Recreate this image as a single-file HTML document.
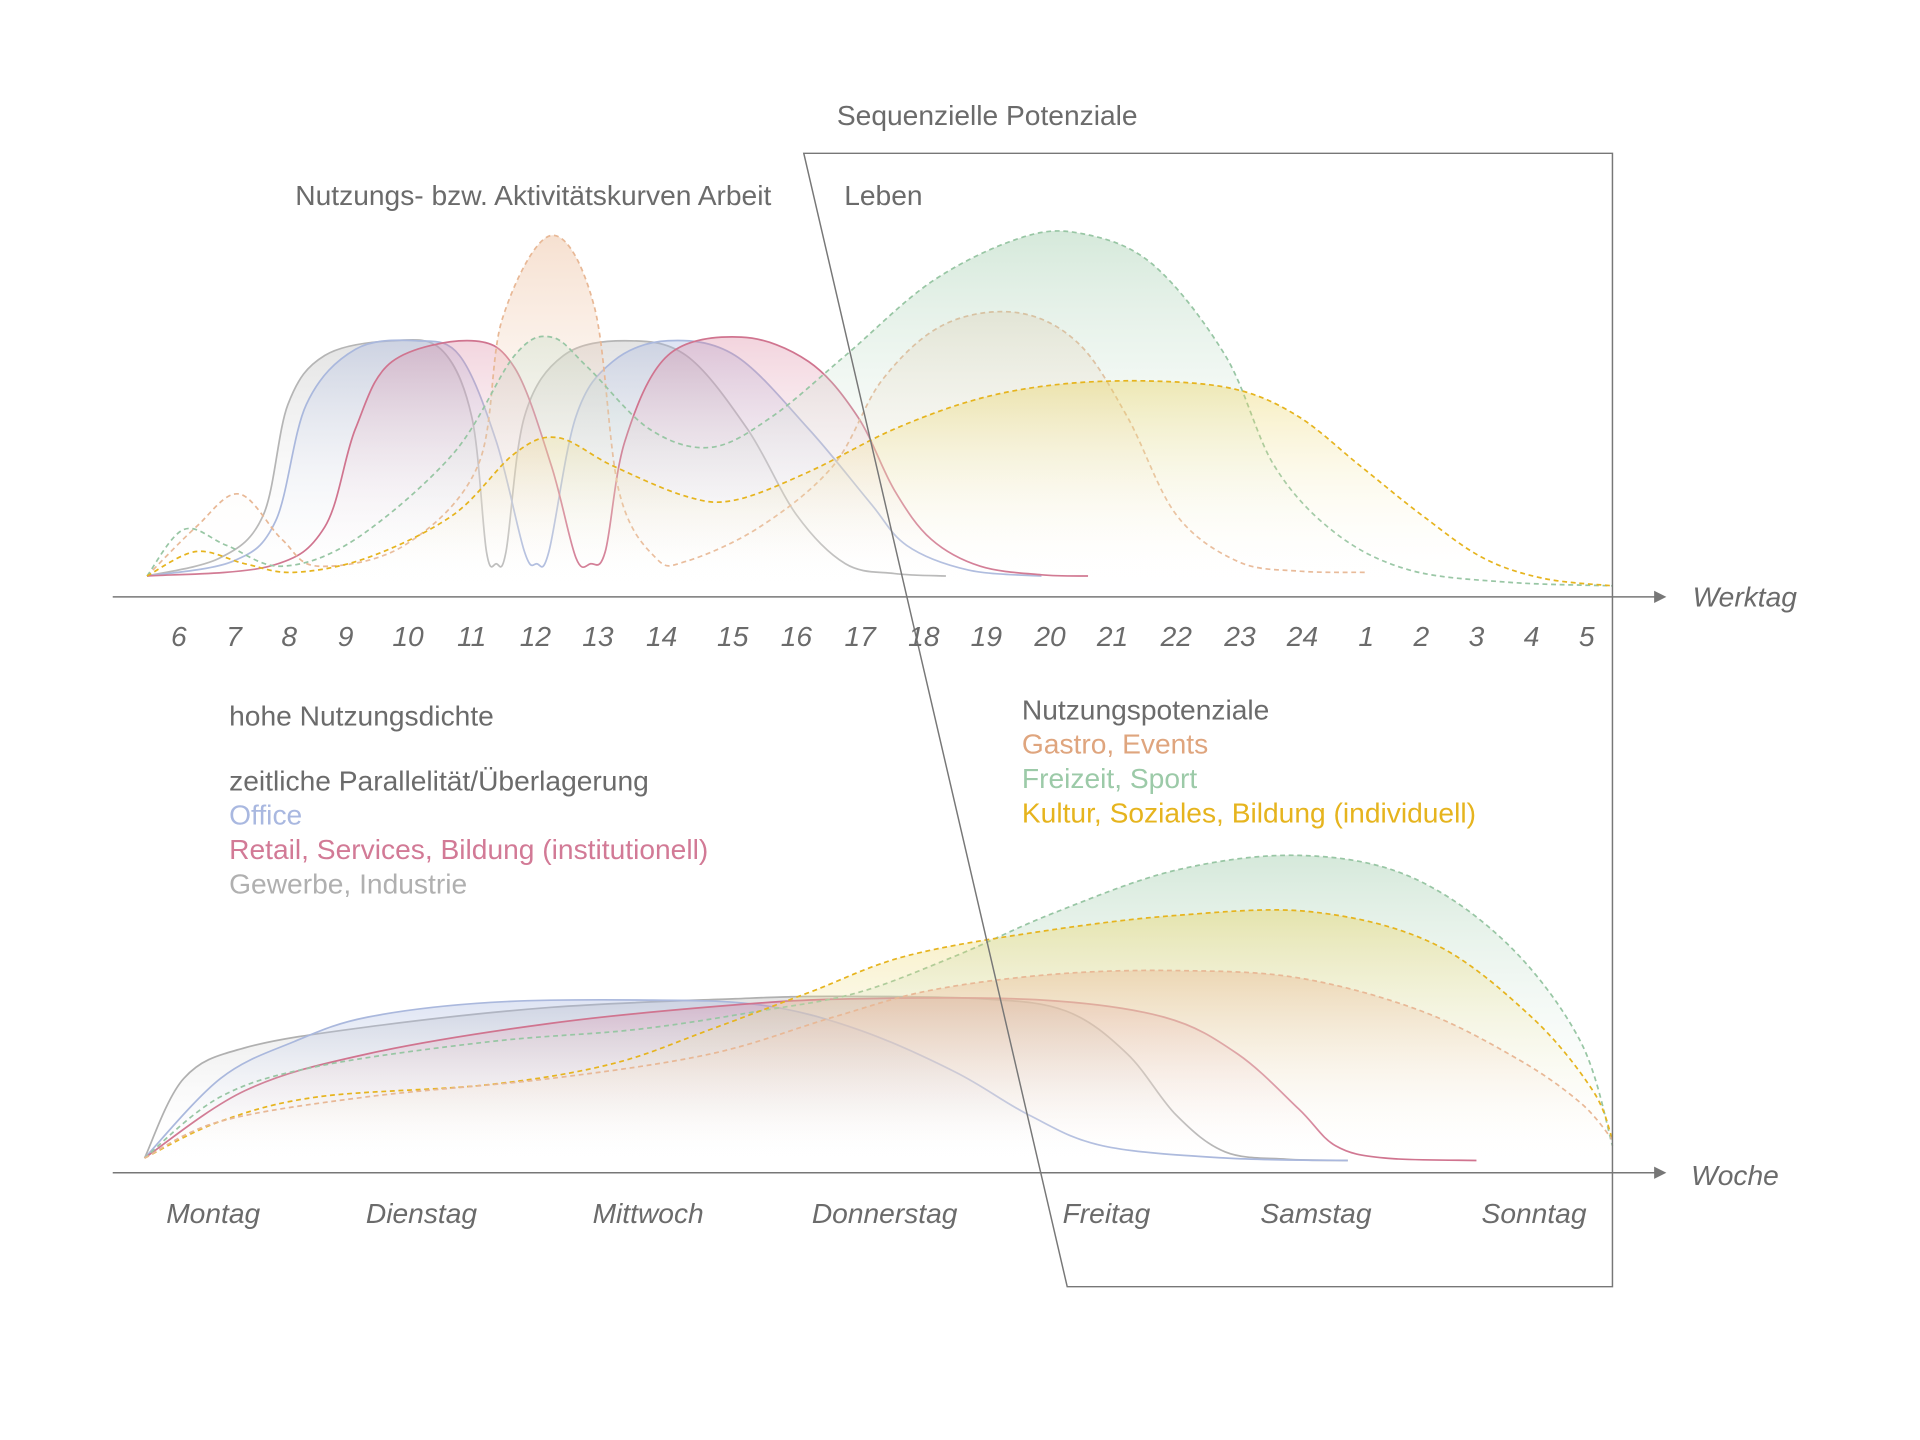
<!DOCTYPE html>
<html><head><meta charset="utf-8"><style>
html,body{margin:0;padding:0;background:#fff}
svg{display:block}
text{font-family:"Liberation Sans",sans-serif;}
</style></head><body>
<svg id="s" width="1920" height="1440" viewBox="0 0 1567 1175" xmlns="http://www.w3.org/2000/svg">
<defs>
<linearGradient id="gG" x1="0" y1="0" x2="0" y2="1"><stop offset="0" stop-color="#9a9a9a" stop-opacity="0.28"/><stop offset="1" stop-color="#fff" stop-opacity="0"/></linearGradient>
<linearGradient id="gB" x1="0" y1="0" x2="0" y2="1"><stop offset="0" stop-color="#a9b8e0" stop-opacity="0.38"/><stop offset="1" stop-color="#fff" stop-opacity="0"/></linearGradient>
<linearGradient id="gR" x1="0" y1="0" x2="0" y2="1"><stop offset="0" stop-color="#d87896" stop-opacity="0.32"/><stop offset="1" stop-color="#fff" stop-opacity="0"/></linearGradient>
<linearGradient id="gO" x1="0" y1="0" x2="0" y2="1"><stop offset="0" stop-color="#eab690" stop-opacity="0.42"/><stop offset="1" stop-color="#fff" stop-opacity="0"/></linearGradient>
<linearGradient id="gF" x1="0" y1="0" x2="0" y2="1"><stop offset="0" stop-color="#9ccaa8" stop-opacity="0.42"/><stop offset="1" stop-color="#fff" stop-opacity="0"/></linearGradient>
<linearGradient id="gY" x1="0" y1="0" x2="0" y2="1"><stop offset="0" stop-color="#e8cf50" stop-opacity="0.38"/><stop offset="1" stop-color="#fff" stop-opacity="0"/></linearGradient>
</defs>
<g id="curves"></g>
<g fill="none" stroke="#777" stroke-width="1.2">
<path d="M656 125 H1316 V1050 H871 Z"/>
<line x1="92" y1="487" x2="1352" y2="487"/>
<line x1="92" y1="957" x2="1352" y2="957"/>
</g>
<polygon points="1350,482 1360,487 1350,492" fill="#777"/>
<polygon points="1350,952 1360,957 1350,962" fill="#777"/>
<g fill="#6b6b6b" font-size="23">
<text x="683" y="102">Sequenzielle Potenziale</text>
<text x="241" y="167">Nutzungs- bzw. Aktivitätskurven Arbeit</text>
<text x="689" y="167">Leben</text>
<text x="187" y="592">hohe Nutzungsdichte</text>
<text x="187" y="645">zeitliche Parallelität/Überlagerung</text>
<text x="187" y="673" fill="#a9b8e0">Office</text>
<text x="187" y="701" fill="#d27a96">Retail, Services, Bildung (institutionell)</text>
<text x="187" y="729" fill="#b0b0b0">Gewerbe, Industrie</text>
<text x="834" y="587">Nutzungspotenziale</text>
<text x="834" y="615" fill="#dfa57e">Gastro, Events</text>
<text x="834" y="643" fill="#9ccaa8">Freizeit, Sport</text>
<text x="834" y="671" fill="#e6b41e">Kultur, Soziales, Bildung (individuell)</text>
</g>
<g fill="#6b6b6b" font-size="23" font-style="italic" text-anchor="middle">
<text x="1424" y="495">Werktag</text>
<text x="1416" y="967">Woche</text>
<g id="hrs"></g>
<text x="174" y="998">Montag</text><text x="344" y="998">Dienstag</text><text x="529" y="998">Mittwoch</text>
<text x="722" y="998">Donnerstag</text><text x="903" y="998">Freitag</text><text x="1074" y="998">Samstag</text><text x="1252" y="998">Sonntag</text>
</g>
</svg>
<script>
var NS="http://www.w3.org/2000/svg";
var hx=[146,191,236,282,333,385,437,488,540,598,650,702,754,805,857,908,960,1012,1063,1115,1160,1205,1250,1295];
var hl=[6,7,8,9,10,11,12,13,14,15,16,17,18,19,20,21,22,23,24,1,2,3,4,5];
var hg=document.getElementById('hrs');
hx.forEach(function(x,i){var t=document.createElementNS(NS,'text');t.setAttribute('x',x);t.setAttribute('y',527);t.textContent=hl[i];hg.appendChild(t);});
function cr(p){var d="M"+p[0][0]+" "+p[0][1];for(var i=0;i<p.length-1;i++){var a=p[i-1]||p[i],b=p[i],c=p[i+1],e=p[i+2]||c;
d+=" C"+(b[0]+(c[0]-a[0])/6).toFixed(1)+" "+(b[1]+(c[1]-a[1])/6).toFixed(1)+" "+(c[0]-(e[0]-b[0])/6).toFixed(1)+" "+(c[1]-(e[1]-b[1])/6).toFixed(1)+" "+c[0]+" "+c[1];}return d;}
var g=document.getElementById('curves');
function add(pts,col,fill,dash,base){var d=cr(pts);
var f=document.createElementNS(NS,'path');f.setAttribute('d',d+" L"+pts[pts.length-1][0]+" "+base+" L"+pts[0][0]+" "+base+" Z");f.setAttribute('fill','url(#'+fill+')');g.appendChild(f);
var s=document.createElementNS(NS,'path');s.setAttribute('d',d);s.setAttribute('fill','none');s.setAttribute('stroke',col);s.setAttribute('stroke-width','1.4');if(dash)s.setAttribute('stroke-dasharray','4 3');g.appendChild(s);}
var B=478;
add([[120,470],[180,455],[215,420],[235,330],[265,290],[320,278],[360,285],[385,340],[397,450],[405,460],[413,450],[428,340],[460,290],[510,278],[560,290],[610,350],[650,420],[690,460],[730,468],[772,470]],"#b5b5b5","gG",false,B);
add([[120,470],[190,458],[225,425],[250,330],[290,285],[340,278],[375,290],[405,360],[428,450],[438,460],[448,450],[470,340],[500,295],[545,278],[600,290],[660,350],[710,410],[740,445],[790,465],[850,470]],"#aab8dd","gB",false,B);
add([[120,470],[220,462],[265,430],[290,350],[320,295],[385,278],[420,300],[450,380],[470,455],[482,460],[494,450],[510,360],[545,290],[605,275],[660,295],[700,340],[730,400],[760,440],[800,462],[850,469],[888,470]],"#d0748f","gR",false,B);
add([[120,470],[160,430],[195,403],[230,440],[260,462],[330,445],[390,380],[410,260],[450,192],[485,250],[505,400],[535,455],[560,458],[620,430],[680,380],[720,310],[770,265],[830,255],[880,280],[920,340],[960,420],[1010,458],[1060,466],[1115,467]],"#e8b896","gO",true,B);
add([[120,470],[150,432],[185,445],[230,462],[290,440],[370,370],[420,290],[450,275],[480,300],[530,350],[580,365],[630,340],[690,290],[760,230],[830,195],[880,190],[940,215],[1000,290],[1040,380],[1090,435],[1150,465],[1230,475],[1316,478]],"#98c6a4","gF",true,B);
add([[120,470],[160,450],[200,460],[240,467],[300,455],[370,420],[420,370],[455,357],[500,380],[560,405],[600,408],[660,385],[730,350],[800,325],[870,313],[945,311],[1010,318],[1060,340],[1110,380],[1160,420],[1210,455],[1260,472],[1316,478]],"#e6b41e","gY",true,B);
var B2=947;
add([[118,945],[150,880],[200,855],[300,838],[450,822],[600,815],[680,813],[800,815],[870,825],[920,860],[960,910],[1000,940],[1050,946],[1100,947]],"#b0b0b0","gG",false,B2);
add([[118,945],[180,880],[240,850],[300,830],[400,818],[520,816],[620,820],[700,840],[780,875],[840,910],[900,935],[1000,945],[1100,947]],"#aab8dd","gB",false,B2);
add([[118,945],[200,890],[300,860],[450,835],[600,820],[700,815],[850,816],[950,830],[1010,860],[1060,905],[1090,935],[1130,945],[1205,947]],"#d0748f","gR",false,B2);
add([[118,945],[180,895],[260,870],[400,850],[520,840],[620,825],[700,810],[780,780],[860,745],[960,710],[1060,698],[1150,715],[1230,770],[1290,850],[1316,935]],"#98c6a4","gF",true,B2);
add([[118,945],[180,915],[260,895],[400,885],[500,868],[580,840],[660,810],[740,780],[850,760],[960,747],[1070,744],[1170,770],[1250,830],[1300,890],[1316,930]],"#e6b41e","gY",true,B2);
add([[118,945],[180,915],[300,895],[450,880],[580,860],[680,830],[760,808],[860,795],[960,792],[1060,798],[1160,825],[1240,865],[1290,900],[1316,930]],"#e8b896","gO",true,B2);
</script>
</body></html>
